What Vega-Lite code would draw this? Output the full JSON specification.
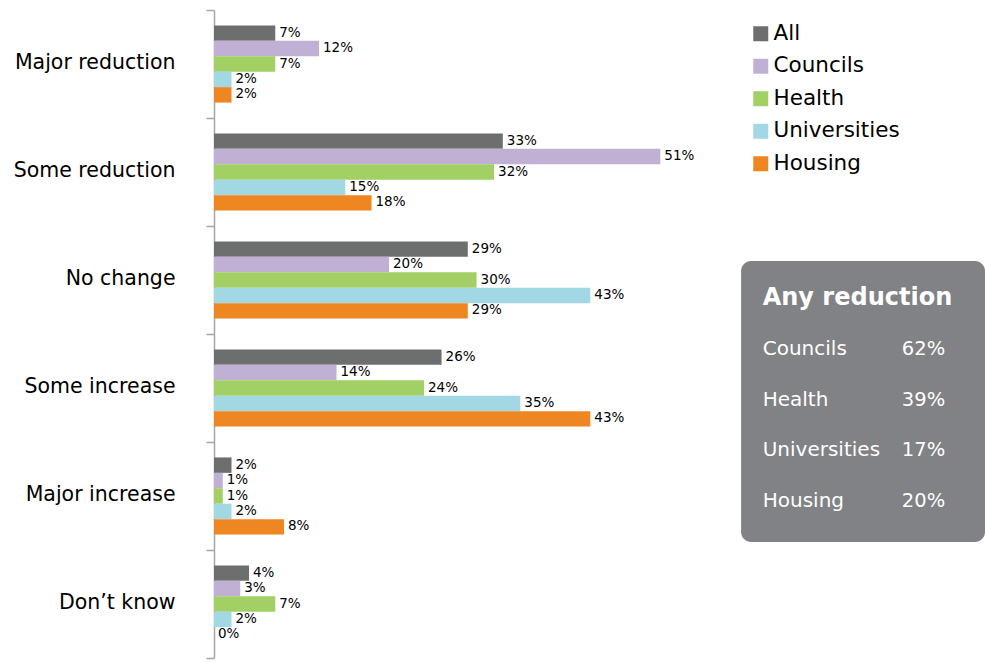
{
  "$schema": "https://vega.github.io/schema/vega-lite/v6.json",
  "width": 771,
  "height": 648,
  "autosize": {"type": "none"},
  "padding": {"left": 214, "top": 10, "right": 0, "bottom": 5},
  "config": {"view": {"stroke": null}, "font": "DejaVu Sans"},
  "datasets": {
    "bars": [
      {"category": "Major reduction", "series": "All", "value": 0.07},
      {"category": "Major reduction", "series": "Councils", "value": 0.12},
      {"category": "Major reduction", "series": "Health", "value": 0.07},
      {"category": "Major reduction", "series": "Universities", "value": 0.02},
      {"category": "Major reduction", "series": "Housing", "value": 0.02},
      {"category": "Some reduction", "series": "All", "value": 0.33},
      {"category": "Some reduction", "series": "Councils", "value": 0.51},
      {"category": "Some reduction", "series": "Health", "value": 0.32},
      {"category": "Some reduction", "series": "Universities", "value": 0.15},
      {"category": "Some reduction", "series": "Housing", "value": 0.18},
      {"category": "No change", "series": "All", "value": 0.29},
      {"category": "No change", "series": "Councils", "value": 0.20},
      {"category": "No change", "series": "Health", "value": 0.30},
      {"category": "No change", "series": "Universities", "value": 0.43},
      {"category": "No change", "series": "Housing", "value": 0.29},
      {"category": "Some increase", "series": "All", "value": 0.26},
      {"category": "Some increase", "series": "Councils", "value": 0.14},
      {"category": "Some increase", "series": "Health", "value": 0.24},
      {"category": "Some increase", "series": "Universities", "value": 0.35},
      {"category": "Some increase", "series": "Housing", "value": 0.43},
      {"category": "Major increase", "series": "All", "value": 0.02},
      {"category": "Major increase", "series": "Councils", "value": 0.01},
      {"category": "Major increase", "series": "Health", "value": 0.01},
      {"category": "Major increase", "series": "Universities", "value": 0.02},
      {"category": "Major increase", "series": "Housing", "value": 0.08},
      {"category": "Don’t know", "series": "All", "value": 0.04},
      {"category": "Don’t know", "series": "Councils", "value": 0.03},
      {"category": "Don’t know", "series": "Health", "value": 0.07},
      {"category": "Don’t know", "series": "Universities", "value": 0.02},
      {"category": "Don’t know", "series": "Housing", "value": 0.0}
    ],
    "boxRows": [
      {"sector": "Councils", "value": 0.62},
      {"sector": "Health", "value": 0.39},
      {"sector": "Universities", "value": 0.17},
      {"sector": "Housing", "value": 0.20}
    ],
    "boxTitle": [{"title": "Any reduction"}]
  },
  "layer": [
    {
      "data": {"name": "bars"},
      "encoding": {
        "y": {
          "field": "category",
          "type": "nominal",
          "sort": ["Major reduction", "Some reduction", "No change", "Some increase", "Major increase", "Don’t know"],
          "scale": {"paddingInner": 0, "paddingOuter": 0},
          "axis": {
            "title": null,
            "labelFontSize": 20.5,
            "labelColor": "#000000",
            "labelPadding": 31,
            "labelOffset": -2,
            "tickBand": "extent",
            "tickSize": 8,
            "tickColor": "#a6a6a6",
            "tickWidth": 1.5,
            "domainColor": "#a6a6a6",
            "domainWidth": 1.5
          }
        },
        "yOffset": {
          "field": "series",
          "type": "nominal",
          "sort": ["All", "Councils", "Health", "Universities", "Housing"],
          "scale": {"paddingInner": 0, "paddingOuter": 1.1}
        },
        "x": {
          "field": "value",
          "type": "quantitative",
          "scale": {"domain": [0, 0.881], "nice": false},
          "axis": null
        }
      },
      "layer": [
        {
          "mark": {"type": "bar"},
          "encoding": {
            "color": {
              "field": "series",
              "type": "nominal",
              "sort": ["All", "Councils", "Health", "Universities", "Housing"],
              "scale": {
                "domain": ["All", "Councils", "Health", "Universities", "Housing"],
                "range": ["#6d6e6e", "#c0b1d4", "#a2d065", "#a1d8e4", "#ee8722"]
              },
              "legend": {
                "orient": "none",
                "legendX": 536,
                "legendY": 13,
                "title": null,
                "symbolType": "square",
                "symbolSize": 225,
                "symbolStrokeWidth": 0,
                "symbolOpacity": 1,
                "labelFontSize": 21.5,
                "labelColor": "#000000",
                "labelOffset": 2,
                "rowPadding": 9.5,
                "padding": 0
              }
            }
          }
        },
        {
          "mark": {"type": "text", "align": "left", "baseline": "middle", "dx": 4, "dy": -0.5, "fontSize": 13.5, "color": "#000000"},
          "encoding": {
            "text": {"field": "value", "type": "quantitative", "format": ".0%"}
          }
        }
      ]
    },
    {
      "data": {"values": [{}]},
      "mark": {"type": "rect", "cornerRadius": 10, "color": "#818285"},
      "encoding": {
        "x": {"datum": 0.6023, "type": "quantitative"},
        "x2": {"datum": 0.881},
        "y": {"datum": 2.324, "type": "quantitative", "scale": {"domain": [0, 6], "reverse": true}, "axis": null},
        "y2": {"datum": 4.926}
      }
    },
    {
      "data": {"name": "boxTitle"},
      "mark": {"type": "text", "align": "left", "baseline": "middle", "fontSize": 24, "fontWeight": "bold", "color": "#ffffff"},
      "encoding": {
        "x": {"datum": 0.627, "type": "quantitative"},
        "y": {"datum": 2.665, "type": "quantitative", "scale": {"domain": [0, 6], "reverse": true}, "axis": null},
        "text": {"field": "title"}
      }
    },
    {
      "data": {"name": "boxRows"},
      "encoding": {
        "y": {
          "field": "sector",
          "type": "nominal",
          "sort": ["Councils", "Health", "Universities", "Housing"],
          "scale": {"type": "point", "range": [339, 491], "padding": 0},
          "axis": null
        }
      },
      "layer": [
        {
          "mark": {"type": "text", "align": "left", "baseline": "middle", "fontSize": 20, "color": "#ffffff"},
          "encoding": {
            "x": {"datum": 0.627, "type": "quantitative"},
            "text": {"field": "sector"}
          }
        },
        {
          "mark": {"type": "text", "align": "left", "baseline": "middle", "fontSize": 19.5, "color": "#ffffff"},
          "encoding": {
            "x": {"datum": 0.786, "type": "quantitative"},
            "text": {"field": "value", "type": "quantitative", "format": ".0%"}
          }
        }
      ]
    }
  ],
  "resolve": {"scale": {"y": "independent"}}
}
